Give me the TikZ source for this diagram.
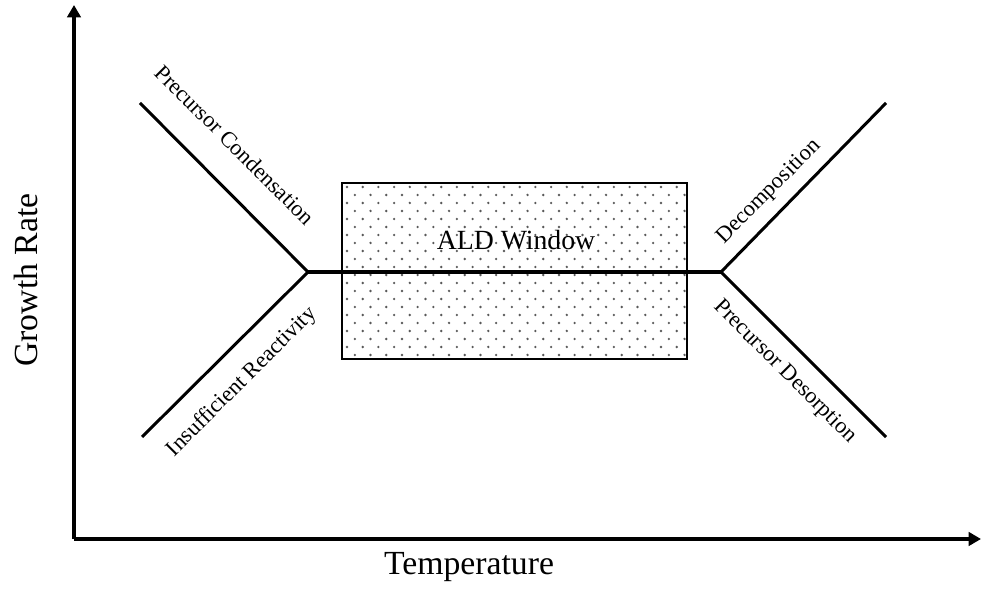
\documentclass[tikz,border=0pt]{standalone}
\usepackage{fontspec}
\setmainfont{Liberation Serif}
\usepackage{tikz}
\usetikzlibrary{arrows.meta}

\tikzset{
  axis/.style={line width=2.3pt, -{Triangle[length=7pt,width=7.6pt]}},
  branch/.style={line width=1.7pt},
  label/.style={font=\fontsize{12.8}{15}\selectfont, inner sep=0pt},
  axislabel/.style={font=\fontsize{19.2}{22}\selectfont, inner sep=0pt}
}

\begin{document}
\begin{tikzpicture}[x=0.02cm, y=0.02cm]

\useasboundingbox (0,0) rectangle (982,590);

% axes
\coordinate (orig) at (74,51);
\coordinate (ytip) at (74,585);
\coordinate (xtip) at (981,51);
\draw[axis] (orig) -- (ytip);
\draw[axis] (orig) -- (xtip);

% window box
\coordinate (boxsw) at (342,231);
\coordinate (boxne) at (687,407);
\begin{scope}
\clip (boxsw) rectangle (boxne);
\foreach \r in {0,...,21}{
  \foreach \c in {0,...,22}{
    \fill[black!65] ({347+15.7*\c+7.85*mod(\r,2)},{403-8*\r}) circle[radius=0.75pt];
  }
}
\end{scope}
\draw[line width=0.6pt] (boxsw) rectangle (boxne);

% branches
\coordinate (jleft) at (308,318);
\coordinate (jright) at (721,318);
\coordinate (lup) at (140,487);
\coordinate (ldown) at (142,153);
\coordinate (rup) at (886,487);
\coordinate (rdown) at (886,153);

\draw[branch] (lup) -- (jleft) -- (ldown);
\draw[branch] (rup) -- (jright) -- (rdown);
\draw[line width=2pt] (jleft) -- (jright);

% nodes
{
\node[label, rotate=-45] (cond) at (235,445) {Precursor Condensation};
\node[label, rotate=45] (react) at (242,208) {Insufficient Reactivity};
\node[label, rotate=45] (decomp) at (769,398) {Decomposition};
\node[label, rotate=-45] (desorp) at (785,218) {Precursor Desorption};

\node[font=\fontsize{15.8}{18}\selectfont, inner sep=0pt] (window) at (516,350) {ALD Window};

\node[axislabel] (temp) at (469,23) {Temperature};
\node[axislabel, rotate=90] (rate) at (26,310) {Growth Rate};
}

\end{tikzpicture}
\end{document}
